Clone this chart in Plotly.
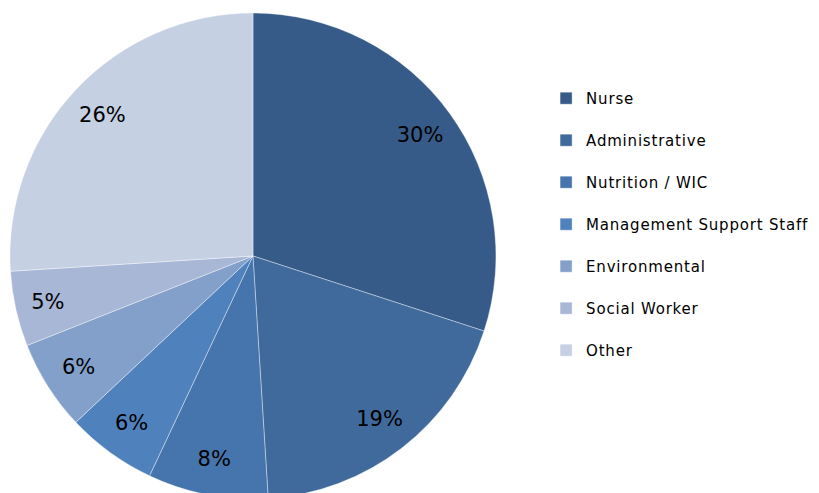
import plotly.graph_objects as go

# staff categories and share of total (%)
categories = ["Nurse", "Administrative", "Nutrition / WIC", "Management Support Staff",
              "Environmental", "Social Worker", "Other"]
shares = [30, 19, 8, 6, 6, 5, 26]
slice_colors = ["#365b88", "#3f6a9b", "#4675ad", "#4f81bd", "#83a0cb", "#a8b7d6", "#c5d0e3"]

# extra blank line gives the legend its wide row spacing
legend_labels = ["<span style='letter-spacing:0.8px'>" + c + "</span><br> " for c in categories]

# page body has an 8px margin, so the domain is shifted to compensate
pie_domain = dict(x=[0.0024, 0.5958], y=[0.004, 0.990])

fig = go.Figure()
fig.add_trace(go.Pie(
    labels=legend_labels,
    values=shares,
    sort=False,
    direction="clockwise",
    rotation=0,
    marker=dict(colors=slice_colors, line=dict(color="rgba(255,255,255,0.55)", width=0.7)),
    textinfo="none",
    hoverinfo="skip",
    domain=pie_domain,
))

# transparent ring on top just to put the percentage labels out near the rim
fig.add_trace(go.Pie(
    labels=categories,
    values=shares,
    sort=False,
    direction="clockwise",
    rotation=0,
    hole=0.7,
    marker=dict(colors=["rgba(0,0,0,0)"] * len(shares), line=dict(width=0)),
    texttemplate="%{percent:.0%}",
    textposition="inside",
    insidetextorientation="horizontal",
    textfont=dict(size=21, color="black"),
    hoverinfo="skip",
    showlegend=False,
    domain=pie_domain,
))

fig.update_layout(
    width=819, height=493,
    margin=dict(l=0, r=0, t=0, b=0),
    paper_bgcolor="white",
    font=dict(family="DejaVu Sans", color="black"),
    legend=dict(x=0.657, y=0.85, xanchor="left", yanchor="top",
                valign="top", font=dict(size=15), bgcolor="rgba(0,0,0,0)"),
)

fig.write_html("out.html")
